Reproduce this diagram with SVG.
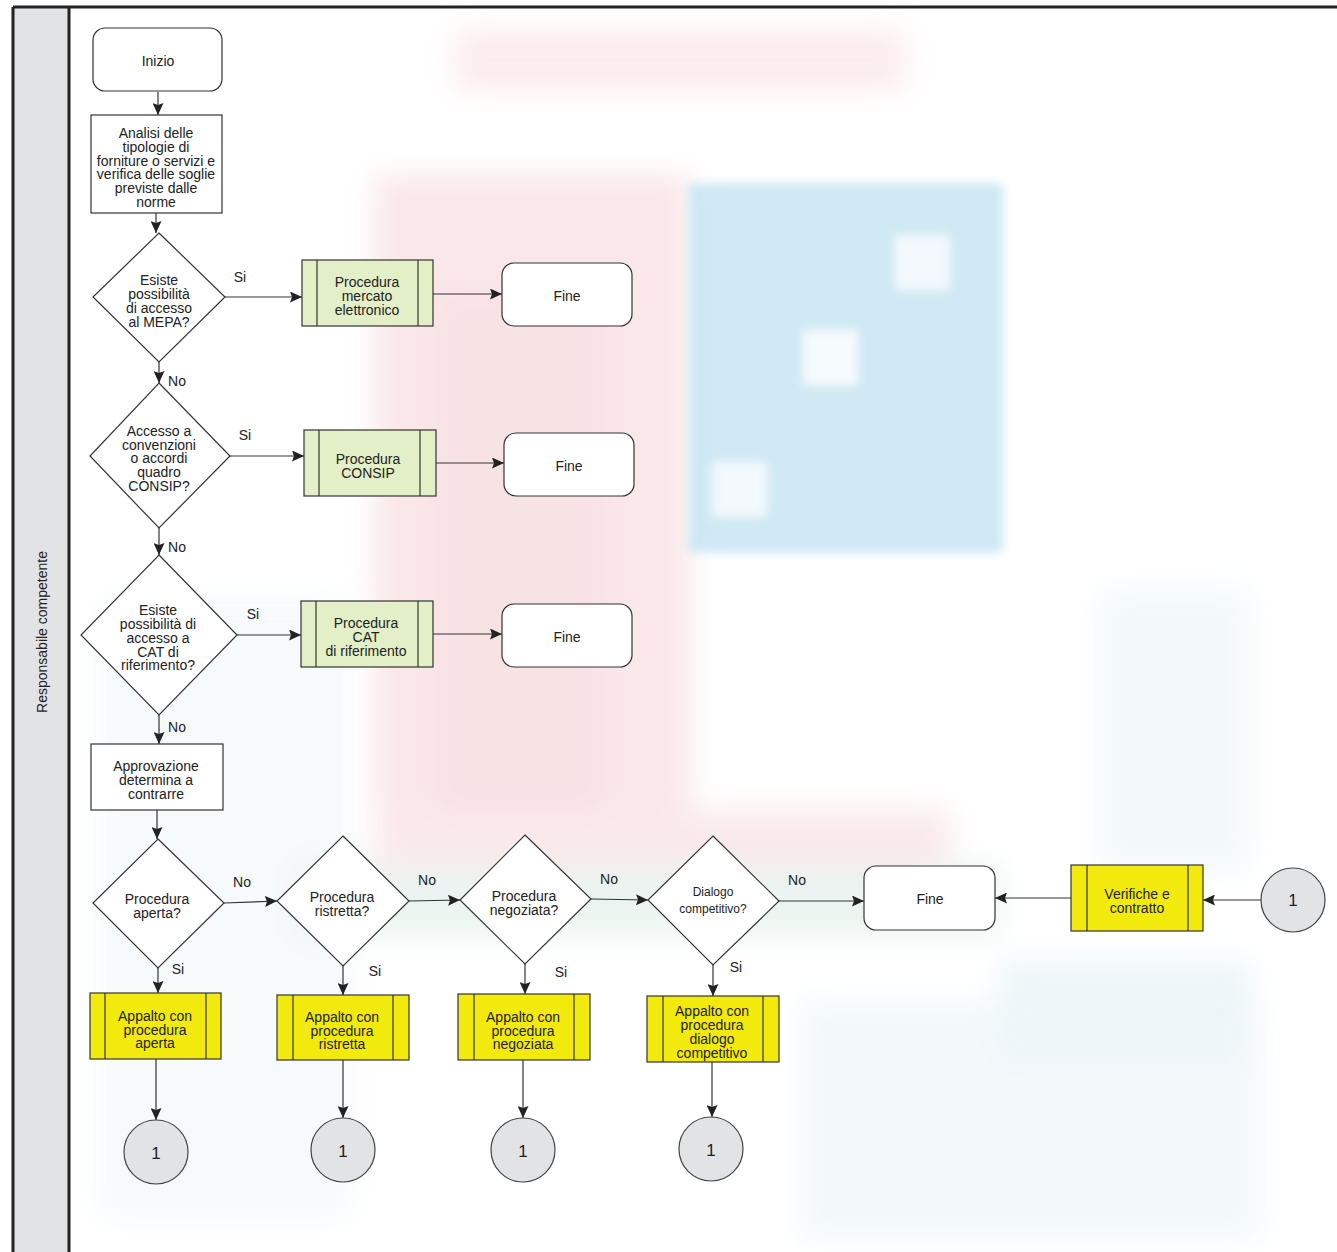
<svg xmlns="http://www.w3.org/2000/svg" width="1337" height="1252" viewBox="0 0 1337 1252">
<defs>
<style>
text{font-family:"Liberation Sans",Arial,sans-serif;font-size:14px;fill:#222;text-anchor:middle}
.lbl{font-size:14px}
.sm{font-size:12px}
.num{font-size:17px}
.box{fill:#fff;stroke:#333;stroke-width:1.2}
.grn{fill:#e3efc7;stroke:#333;stroke-width:1.2}
.yel{fill:#f2ea0d;stroke:#333;stroke-width:1.2}
.cir{fill:#e2e3e5;stroke:#444;stroke-width:1.2}
.in{stroke:#333;stroke-width:1.2;fill:none}
.con{stroke:#333;stroke-width:1.2;fill:none;marker-end:url(#ah)}
.lane{stroke:#222;stroke-width:3;fill:none}
</style>
<marker id="ah" markerUnits="userSpaceOnUse" markerWidth="13" markerHeight="11" refX="12" refY="5.5" orient="auto">
<path d="M0,0 L12,5.5 L0,11 L2,5.5 z" fill="#222"/>
</marker>
<filter id="blur" x="-20%" y="-20%" width="140%" height="140%"><feGaussianBlur stdDeviation="14"/></filter>
<filter id="blur2" x="-20%" y="-20%" width="140%" height="140%"><feGaussianBlur stdDeviation="5"/></filter>
</defs>
<rect width="1337" height="1252" fill="#fff"/>
<g id="watermark">
<g filter="url(#blur)" opacity="0.7">
<rect x="455" y="30" width="450" height="60" fill="#fbe4e6"/>
<rect x="375" y="175" width="315" height="690" fill="#f8dde0"/>
<rect x="440" y="300" width="160" height="560" fill="#f5d6da"/>
<rect x="380" y="810" width="570" height="60" fill="#f8e0e2"/>
<rect x="100" y="600" width="250" height="620" fill="#f3f8fa"/>
<rect x="300" y="865" width="700" height="70" fill="#e3f0ea"/>
<rect x="800" y="1000" width="460" height="240" fill="#eef6f9"/>
<rect x="1100" y="590" width="150" height="280" fill="#eef6f8"/>
<rect x="1000" y="960" width="250" height="100" fill="#e6f2f6"/>
</g>
<g filter="url(#blur2)" opacity="0.9">
<rect x="688" y="183" width="315" height="370" fill="#cbe7f4"/>
<rect x="895" y="235" width="55" height="55" fill="#f2f9fc"/>
<rect x="803" y="330" width="55" height="55" fill="#f6fbfd"/>
<rect x="712" y="462" width="55" height="55" fill="#f2f9fc"/>
</g>
</g>
<g id="lane">
<rect x="13" y="7" width="56" height="1250" fill="#e2e3e5"/>
<line class="lane" x1="13" y1="7" x2="1337" y2="7"/>
<line class="lane" x1="13" y1="7" x2="13" y2="1252"/>
<line class="lane" x1="69" y1="7" x2="69" y2="1252"/>
<text transform="translate(47,632) rotate(-90)" x="0" y="0">Responsabile competente</text>
</g>
<g id="connectors">
<line class="con" x1="158" y1="92" x2="158" y2="115"/>
<line class="con" x1="156" y1="213" x2="156" y2="233"/>
<line class="con" x1="225" y1="297" x2="302" y2="297"/>
<line class="con" x1="433" y1="294" x2="502" y2="294"/>
<line class="con" x1="159" y1="362" x2="159" y2="383"/>
<line class="con" x1="230" y1="456" x2="304" y2="456"/>
<line class="con" x1="436" y1="463" x2="504" y2="463"/>
<line class="con" x1="159" y1="528" x2="159" y2="555"/>
<line class="con" x1="237" y1="635" x2="301" y2="635"/>
<line class="con" x1="433" y1="634" x2="502" y2="634"/>
<line class="con" x1="159" y1="715" x2="159" y2="744"/>
<line class="con" x1="157" y1="810" x2="157" y2="839"/>
<line class="con" x1="224" y1="903" x2="277" y2="901"/>
<line class="con" x1="409" y1="901" x2="460" y2="900"/>
<line class="con" x1="591" y1="899" x2="648" y2="900"/>
<line class="con" x1="779" y1="901" x2="864" y2="901"/>
<line class="con" x1="1071" y1="898" x2="995" y2="898"/>
<line class="con" x1="1261" y1="900" x2="1203" y2="900"/>
<line class="con" x1="158" y1="968" x2="158" y2="993"/>
<line class="con" x1="343" y1="966" x2="343" y2="995"/>
<line class="con" x1="525" y1="964" x2="525" y2="994"/>
<line class="con" x1="713" y1="965" x2="713" y2="996"/>
<line class="con" x1="156" y1="1059" x2="156" y2="1120"/>
<line class="con" x1="343" y1="1060" x2="343" y2="1118"/>
<line class="con" x1="523" y1="1060" x2="523" y2="1118"/>
<line class="con" x1="712" y1="1062" x2="712" y2="1117"/>
<text x="240" y="282" class="lbl">Si</text>
<text x="177" y="386" class="lbl">No</text>
<text x="245" y="440" class="lbl">Si</text>
<text x="177" y="552" class="lbl">No</text>
<text x="253" y="619" class="lbl">Si</text>
<text x="177" y="732" class="lbl">No</text>
<text x="242" y="887" class="lbl">No</text>
<text x="178" y="974" class="lbl">Si</text>
<text x="427" y="885" class="lbl">No</text>
<text x="375" y="976" class="lbl">Si</text>
<text x="609" y="884" class="lbl">No</text>
<text x="561" y="977" class="lbl">Si</text>
<text x="797" y="885" class="lbl">No</text>
<text x="736" y="972" class="lbl">Si</text>
</g>
<g id="inizio">
<rect class="box" x="93" y="28" width="129" height="63" rx="12"/>
<text x="158" y="66">Inizio</text>
</g>
<g id="analisi">
<rect class="box" x="91" y="115" width="131" height="98"/>
<text x="156" y="138">Analisi delle</text>
<text x="156" y="152">tipologie di</text>
<text x="156" y="166">forniture o servizi e</text>
<text x="156" y="179">verifica delle soglie</text>
<text x="156" y="193">previste dalle</text>
<text x="156" y="207">norme</text>
</g>
<g id="d-mepa">
<polygon class="box" points="159,233 225,297 159,362 93,297"/>
<text x="159" y="285">Esiste</text>
<text x="159" y="299">possibilità</text>
<text x="159" y="313">di accesso</text>
<text x="159" y="327">al MEPA?</text>
</g>
<g id="p-mepa">
<rect class="grn" x="302" y="260" width="131" height="66"/>
<line class="in" x1="317" y1="260" x2="317" y2="326"/>
<line class="in" x1="418" y1="260" x2="418" y2="326"/>
<text x="367" y="287">Procedura</text>
<text x="367" y="301">mercato</text>
<text x="367" y="315">elettronico</text>
</g>
<g id="fine1">
<rect class="box" x="502" y="263" width="130" height="63" rx="12"/>
<text x="567" y="301">Fine</text>
</g>
<g id="d-consip">
<polygon class="box" points="159,383 230,456 159,528 90,456"/>
<text x="159" y="436">Accesso a</text>
<text x="159" y="450">convenzioni</text>
<text x="159" y="463">o accordi</text>
<text x="159" y="477">quadro</text>
<text x="159" y="491">CONSIP?</text>
</g>
<g id="p-consip">
<rect class="grn" x="304" y="430" width="132" height="66"/>
<line class="in" x1="319" y1="430" x2="319" y2="496"/>
<line class="in" x1="420" y1="430" x2="420" y2="496"/>
<text x="368" y="464">Procedura</text>
<text x="368" y="478">CONSIP</text>
</g>
<g id="fine2">
<rect class="box" x="504" y="433" width="130" height="63" rx="12"/>
<text x="569" y="471">Fine</text>
</g>
<g id="d-cat">
<polygon class="box" points="159,555 237,635 159,715 81,635"/>
<text x="158" y="615">Esiste</text>
<text x="158" y="629">possibilità di</text>
<text x="158" y="643">accesso a</text>
<text x="158" y="657">CAT di</text>
<text x="158" y="670">riferimento?</text>
</g>
<g id="p-cat">
<rect class="grn" x="301" y="601" width="132" height="66"/>
<line class="in" x1="316" y1="601" x2="316" y2="667"/>
<line class="in" x1="418" y1="601" x2="418" y2="667"/>
<text x="366" y="628">Procedura</text>
<text x="366" y="642">CAT</text>
<text x="366" y="656">di riferimento</text>
</g>
<g id="fine3">
<rect class="box" x="502" y="604" width="130" height="63" rx="12"/>
<text x="567" y="642">Fine</text>
</g>
<g id="approvazione">
<rect class="box" x="91" y="744" width="132" height="66"/>
<text x="156" y="771">Approvazione</text>
<text x="156" y="785">determina a</text>
<text x="156" y="799">contrarre</text>
</g>
<g id="d-aperta">
<polygon class="box" points="158,839 224,903 158,968 93,903"/>
<text x="157" y="904">Procedura</text>
<text x="157" y="918">aperta?</text>
</g>
<g id="d-ristretta">
<polygon class="box" points="343,836 409,901 343,966 277,901"/>
<text x="342" y="902">Procedura</text>
<text x="342" y="916">ristretta?</text>
</g>
<g id="d-negoziata">
<polygon class="box" points="525,835 591,899 525,964 460,900"/>
<text x="524" y="901">Procedura</text>
<text x="524" y="915">negoziata?</text>
</g>
<g id="d-dialogo">
<polygon class="box" points="713,836 779,901 713,965 648,900"/>
<text x="713" y="896" class="sm">Dialogo</text>
<text x="713" y="913" class="sm">competitivo?</text>
</g>
<g id="fine4">
<rect class="box" x="864" y="866" width="131" height="64" rx="12"/>
<text x="930" y="904">Fine</text>
</g>
<g id="verifiche">
<rect class="yel" x="1071" y="865" width="132" height="66"/>
<line class="in" x1="1087" y1="865" x2="1087" y2="931"/>
<line class="in" x1="1188" y1="865" x2="1188" y2="931"/>
<text x="1137" y="899">Verifiche e</text>
<text x="1137" y="913">contratto</text>
</g>
<g id="c-right">
<circle class="cir" cx="1293" cy="900" r="32"/>
<text x="1293" y="906" class="num">1</text>
</g>
<g id="a-aperta">
<rect class="yel" x="90" y="993" width="131" height="66"/>
<line class="in" x1="105" y1="993" x2="105" y2="1059"/>
<line class="in" x1="206" y1="993" x2="206" y2="1059"/>
<text x="155" y="1021">Appalto con</text>
<text x="155" y="1035">procedura</text>
<text x="155" y="1048">aperta</text>
</g>
<g id="a-ristretta">
<rect class="yel" x="277" y="995" width="132" height="65"/>
<line class="in" x1="293" y1="995" x2="293" y2="1060"/>
<line class="in" x1="393" y1="995" x2="393" y2="1060"/>
<text x="342" y="1022">Appalto con</text>
<text x="342" y="1036">procedura</text>
<text x="342" y="1049">ristretta</text>
</g>
<g id="a-negoziata">
<rect class="yel" x="458" y="994" width="132" height="66"/>
<line class="in" x1="474" y1="994" x2="474" y2="1060"/>
<line class="in" x1="574" y1="994" x2="574" y2="1060"/>
<text x="523" y="1022">Appalto con</text>
<text x="523" y="1036">procedura</text>
<text x="523" y="1049">negoziata</text>
</g>
<g id="a-dialogo">
<rect class="yel" x="647" y="996" width="132" height="66"/>
<line class="in" x1="663" y1="996" x2="663" y2="1062"/>
<line class="in" x1="763" y1="996" x2="763" y2="1062"/>
<text x="712" y="1016">Appalto con</text>
<text x="712" y="1030">procedura</text>
<text x="712" y="1044">dialogo</text>
<text x="712" y="1058">competitivo</text>
</g>
<g id="c-aperta">
<circle class="cir" cx="156" cy="1152" r="32"/>
<text x="156" y="1159" class="num">1</text>
</g>
<g id="c-ristretta">
<circle class="cir" cx="343" cy="1150" r="32"/>
<text x="343" y="1157" class="num">1</text>
</g>
<g id="c-negoziata">
<circle class="cir" cx="523" cy="1150" r="32"/>
<text x="523" y="1157" class="num">1</text>
</g>
<g id="c-dialogo">
<circle class="cir" cx="711" cy="1149" r="32"/>
<text x="711" y="1156" class="num">1</text>
</g>
</svg>
